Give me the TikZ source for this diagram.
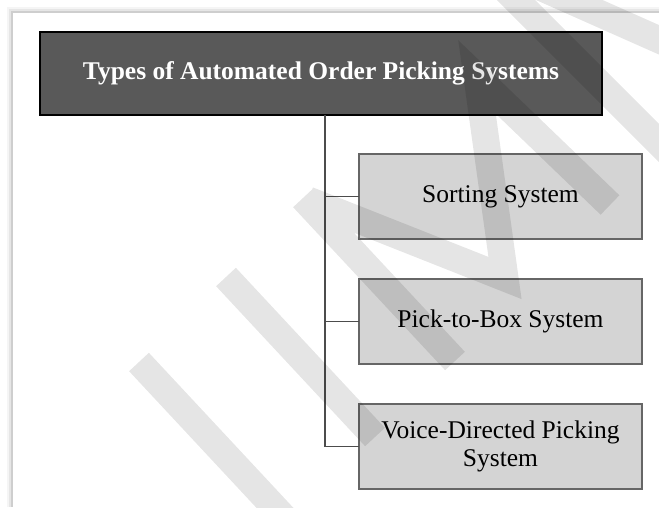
\documentclass[tikz,border=0pt]{standalone}
\usepackage{fontspec}
\setmainfont{Liberation Serif}
\usetikzlibrary{positioning}

\begin{document}
\begin{tikzpicture}[
    x=1pt, y=-1pt,
    headnode/.style={rectangle, draw=black, fill=black!65, line width=1.5pt, minimum width=562pt, minimum height=83pt, inner sep=0pt, outer sep=0pt, text=white, font=\fontsize{25.5}{28}\selectfont\bfseries},
    typenode/.style={rectangle, draw=black!60, fill=black!17, line width=1.3pt, minimum width=283pt, minimum height=85pt, inner sep=0pt, outer sep=0pt, align=center, font=\fontsize{25.5}{28}\selectfont},
    link/.style={draw=black!70, line width=1.5pt},
    wmband/.style={draw=black, opacity=0.1, line width=27pt},
  ]
  % page with its shadow
  \useasboundingbox (0,0) rectangle (659,507);
  \fill[white] (0,0) rectangle (659,507);
  \foreach \s/\o in {6/0.04, 4/0.06, 2/0.10}
    \fill[black, opacity=\o] (13-\s,13-\s) rectangle (659,507);
  \fill[white] (13,13) rectangle (659,507);

  \node[headnode]    (title)      at (321,73.5)                 {Types of Automated Order Picking Systems};
  \node[typenode]    (sorting)    at (500.5,196.5)              {Sorting System};
  \node[typenode]    (picktobox)  [below=40pt of sorting]       {Pick-to-Box System};
  \node[typenode]    (voice)      [below=40pt of picktobox]     {Voice-Directed Picking\\ System};

  \draw[link] ([xshift=4pt]title.south) |- (sorting.west);
  \draw[link] ([xshift=4pt]title.south) |- (picktobox.west);
  \draw[link] ([xshift=4pt]title.south) |- (voice.west);

  % watermark
  \begin{scope}
    \clip (0,0) rectangle (659,507);
    \draw[wmband] (139,362) -- (290,524)
                  (226,277) -- (375,437)
                  (303,198) -- (455,361)
                  (308,200) -- (505,278) -- (477,77) -- (610,205)
                  (503,-13) -- (690,174)
                  (540,-13) -- (700,58);
  \end{scope}
\end{tikzpicture}
\end{document}
